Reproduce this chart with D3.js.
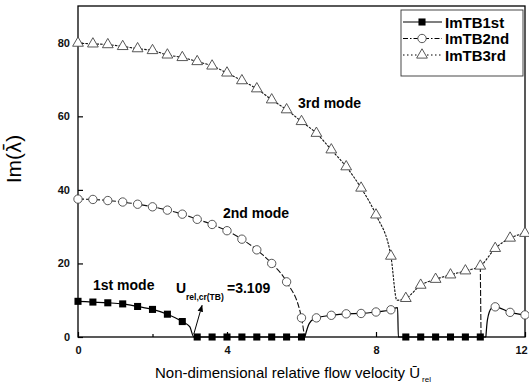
<!DOCTYPE html>
<html>
<head>
<meta charset="utf-8">
<script src="https://cdn.jsdelivr.net/npm/d3@7"></script>
<style>
  body { margin: 0; background: #fff; }
  svg { font-family: Arial, "Liberation Sans", sans-serif; }
</style>
</head>
<body>
<div id="chart"></div>
<script>
// chart size and plot box
let width = 529,
    height = 389,
    margin = {top: 6, right: 4, bottom: 52, left: 78}

// markers
var sqX   = [0, 0.4, 0.8, 1.2, 1.6, 2.0, 2.4, 2.8, 3.2, 3.6, 4.0, 4.4, 4.8, 5.2, 5.6, 6.0, 8.8, 9.2, 9.6, 10.0, 10.4, 10.8]
var sqY   = [9.7, 9.5, 9.3, 9.0, 8.3, 7.5, 6.2, 4.2, 0, 0, 0, 0, 0, 0, 0, 0, 0, 0, 0, 0, 0, 0]
var circX = [0, 0.4, 0.8, 1.2, 1.6, 2.0, 2.4, 2.8, 3.2, 3.6, 4.0, 4.4, 4.8, 5.2, 5.6, 6.0, 6.4, 6.8, 7.2, 7.6, 8.0, 8.4, 11.2, 11.6, 12.0]
var circY = [37.5, 37.4, 37.1, 36.7, 36.1, 35.4, 34.5, 33.4, 32.0, 30.6, 28.9, 26.6, 23.7, 20.0, 15.0, 5.2, 5.2, 5.9, 6.3, 6.4, 6.8, 7.4, 8.2, 6.7, 6.0]
var triX  = [0, 0.4, 0.8, 1.2, 1.6, 2.0, 2.4, 2.8, 3.2, 3.6, 4.0, 4.4, 4.8, 5.2, 5.6, 6.0, 6.4, 6.8, 7.2, 7.6, 8.0, 8.4, 8.8, 9.2, 9.6, 10.0, 10.4, 10.8, 11.2, 11.6, 12.0]
var triY  = [79.9, 79.7, 79.5, 79.0, 78.4, 77.9, 76.7, 76.0, 74.9, 73.7, 71.8, 69.7, 67.5, 64.5, 61.8, 58.6, 55.4, 50.9, 46.3, 40.5, 33.2, 22.0, 10.5, 14.1, 15.7, 16.9, 18.0, 19.3, 24.1, 26.9, 28.2]

// line paths (null = break)
var solidX = [0, 0.4, 0.8, 1.2, 1.6, 2.0, 2.4, 2.8, 3.0, 3.109, 6.09, null, 6.09, 6.21, 6.4, 6.8, 7.2, 7.6, 8.0, 8.4, 8.58, 8.6, 10.95, null, 10.95, 10.99, 11.1, 11.2, 11.6, 12.0]
var solidY = [9.7, 9.5, 9.3, 9.0, 8.3, 7.5, 6.2, 4.2, 2.8, 0, 0, null, 0, 3.7, 5.2, 5.9, 6.3, 6.4, 6.8, 7.4, 8.0, 0, 0, null, 0, 4.6, 7.8, 8.2, 6.7, 6.0]
var dashX  = [0, 0.4, 0.8, 1.2, 1.6, 2.0, 2.4, 2.8, 3.2, 3.6, 4.0, 4.4, 4.8, 5.2, 5.6, 6.0, 6.08, null, 10.8, 10.82]
var dashY  = [37.5, 37.4, 37.1, 36.7, 36.1, 35.4, 34.5, 33.4, 32.0, 30.6, 28.9, 26.6, 23.7, 20.0, 15.0, 5.2, 0, null, 19.3, 0]
var dotX   = [0, 0.4, 0.8, 1.2, 1.6, 2.0, 2.4, 2.8, 3.2, 3.6, 4.0, 4.4, 4.8, 5.2, 5.6, 6.0, 6.4, 6.8, 7.2, 7.6, 8.0, 8.4, 8.56, 8.8, 9.2, 9.6, 10.0, 10.4, 10.8, 11.2, 11.6, 12.0]
var dotY   = [79.9, 79.7, 79.5, 79.0, 78.4, 77.9, 76.7, 76.0, 74.9, 73.7, 71.8, 69.7, 67.5, 64.5, 61.8, 58.6, 55.4, 50.9, 46.3, 40.5, 33.2, 22.0, 10.0, 10.5, 14.1, 15.7, 16.9, 18.0, 19.3, 24.1, 26.9, 28.2]

var xTicks = [0, 4, 8, 12]
var xMinor = [2, 6, 10]
var yTicks = [0, 20, 40, 60, 80]
var legendNames = ["ImTB1st", "ImTB2nd", "ImTB3rd"]

var svg = d3.select("#chart")
  .append("svg")
    .attr("width", width)
    .attr("height", height)

var x = d3.scaleLinear().domain([0, 12]).range([margin.left, width - margin.right])
var y = d3.scaleLinear().domain([0, 90]).range([height - margin.bottom, margin.top])

// plot frame
svg.append("rect")
  .attr("x", x(0)).attr("y", y(90))
  .attr("width", x(12) - x(0)).attr("height", y(0) - y(90))
  .attr("fill", "none").attr("stroke", "#000").attr("stroke-width", 1.3)

// axes with inward ticks
var xAxis = svg.append("g")
  .attr("transform", "translate(0," + y(0) + ")")
  .call(d3.axisBottom(x).tickValues(xTicks).tickSize(-5).tickPadding(9).tickFormat(d3.format("d")))
xAxis.select(".domain").remove()
// last label sits against the page edge
xAxis.selectAll(".tick text").filter(function(d) { return d == 12 }).attr("dx", -4)
svg.append("g")
  .attr("transform", "translate(0," + y(0) + ")")
  .call(d3.axisBottom(x).tickValues(xMinor).tickSize(-3).tickFormat(""))
  .select(".domain").remove()

var yAxis = svg.append("g")
  .attr("transform", "translate(" + x(0) + ",0)")
  .call(d3.axisLeft(y).tickValues(yTicks).tickSize(-5).tickPadding(8))
yAxis.select(".domain").remove()

svg.selectAll(".tick line").attr("stroke", "#000").attr("stroke-width", 1.2)
svg.selectAll(".tick text")
  .attr("font-size", 11).attr("font-weight", "bold").attr("fill", "#111")
  .attr("font-family", "Arial, 'Liberation Sans', sans-serif")

// lines
function pathOf(xs, ys) {
  var pts = xs.map(function(d, i) { return [d, ys[i]] })
  return d3.line()
    .defined(function(d) { return d[0] !== null })
    .x(function(d) { return x(d[0]) })
    .y(function(d) { return y(d[1]) })
    .curve(d3.curveMonotoneX)(pts)
}

svg.append("path").attr("d", pathOf(dotX, dotY))
  .attr("fill", "none").attr("stroke", "#111").attr("stroke-width", 1.1).attr("stroke-dasharray", "2.5,1.2")
svg.append("path").attr("d", pathOf(dashX, dashY))
  .attr("fill", "none").attr("stroke", "#111").attr("stroke-width", 1.1).attr("stroke-dasharray", "6,2")
svg.append("path").attr("d", pathOf(solidX, solidY))
  .attr("fill", "none").attr("stroke", "#000").attr("stroke-width", 1.2)

// markers
var sym = {
  sq: d3.symbol().type(d3.symbolSquare).size(50),
  ci: d3.symbol().type(d3.symbolCircle).size(55),
  tr: d3.symbol().type(d3.symbolTriangle).size(50)
}

svg.selectAll(".tri")
  .data(triX.map(function(d, i) { return [d, triY[i]] }))
  .enter().append("path")
    .attr("d", sym.tr)
    .attr("transform", function(d) { return "translate(" + x(d[0]) + "," + y(d[1]) + ")" })
    .attr("fill", "#fff").attr("stroke", "#444").attr("stroke-width", 0.9)

svg.selectAll(".circ")
  .data(circX.map(function(d, i) { return [d, circY[i]] }))
  .enter().append("path")
    .attr("d", sym.ci)
    .attr("transform", function(d) { return "translate(" + x(d[0]) + "," + y(d[1]) + ")" })
    .attr("fill", "#fff").attr("stroke", "#444").attr("stroke-width", 0.9)

svg.selectAll(".sq")
  .data(sqX.map(function(d, i) { return [d, sqY[i]] }))
  .enter().append("path")
    .attr("d", sym.sq)
    .attr("transform", function(d) { return "translate(" + x(d[0]) + "," + y(d[1]) + ")" })
    .attr("fill", "#000")

// annotations
var note = svg.append("g").attr("font-weight", "bold").attr("font-size", 14).attr("fill", "#000")
note.append("text").attr("x", 298).attr("y", 108).text("3rd mode")
note.append("text").attr("x", 223).attr("y", 218).text("2nd mode")
note.append("text").attr("x", 93).attr("y", 290).text("1st mode")
note.append("text").attr("x", 176).attr("y", 293).text("U")
note.append("text").attr("x", 186).attr("y", 300).attr("font-size", 8.5).text("rel,cr(TB)")
note.append("text").attr("x", 227).attr("y", 293).text("=3.109")

svg.append("defs").append("marker")
  .attr("id", "arr").attr("viewBox", "0 0 10 10").attr("refX", 9).attr("refY", 5)
  .attr("markerWidth", 7).attr("markerHeight", 7).attr("orient", "auto")
  .append("path").attr("d", "M0,1L10,5L0,9z").attr("fill", "#000")
svg.append("line")
  .attr("x1", x(3.109)).attr("y1", y(0.8)).attr("x2", x(3.33)).attr("y2", y(8.6))
  .attr("stroke", "#000").attr("stroke-width", 1).attr("marker-end", "url(#arr)")

// legend
var lg = svg.append("g")
lg.append("rect").attr("x", 401).attr("y", 10).attr("width", 122).attr("height", 66)
  .attr("fill", "#fff").attr("stroke", "#333").attr("stroke-width", 0.9)
var dashes = [null, "5,2,1.5,2", "1.5,2.5"]
var legSym = [sym.sq, sym.ci, sym.tr]
legendNames.forEach(function(name, i) {
  var ly = 22 + i * 16.5
  lg.append("line").attr("x1", 403).attr("x2", 442).attr("y1", ly).attr("y2", ly)
    .attr("stroke", "#000").attr("stroke-width", 1.2).attr("stroke-dasharray", dashes[i])
  lg.append("path").attr("d", legSym[i]).attr("transform", "translate(422," + ly + ")")
    .attr("fill", i == 0 ? "#000" : "#fff").attr("stroke", i == 0 ? "none" : "#444").attr("stroke-width", 0.9)
  lg.append("text").attr("x", 445).attr("y", ly + 5.5)
    .attr("font-size", 15).attr("font-weight", "bold").text(name)
})

// axis titles
var xt = svg.append("text").attr("x", 155).attr("y", 378).attr("font-size", 15).attr("fill", "#000")
xt.append("tspan").text("Non-dimensional relative flow velocity \u016A")
xt.append("tspan").attr("font-size", 8).attr("dx", 2).attr("dy", 4).text("rel")

var yl = svg.append("text")
  .attr("transform", "translate(21,159) rotate(-90)")
  .attr("text-anchor", "middle").attr("font-size", 21).attr("fill", "#000")
yl.append("tspan").text("Im(")
yl.append("tspan").attr("font-family", "'DejaVu Sans', sans-serif").attr("font-size", 19).text("\u03BB\u0304")
yl.append("tspan").text(")")
</script>
</body>
</html>
